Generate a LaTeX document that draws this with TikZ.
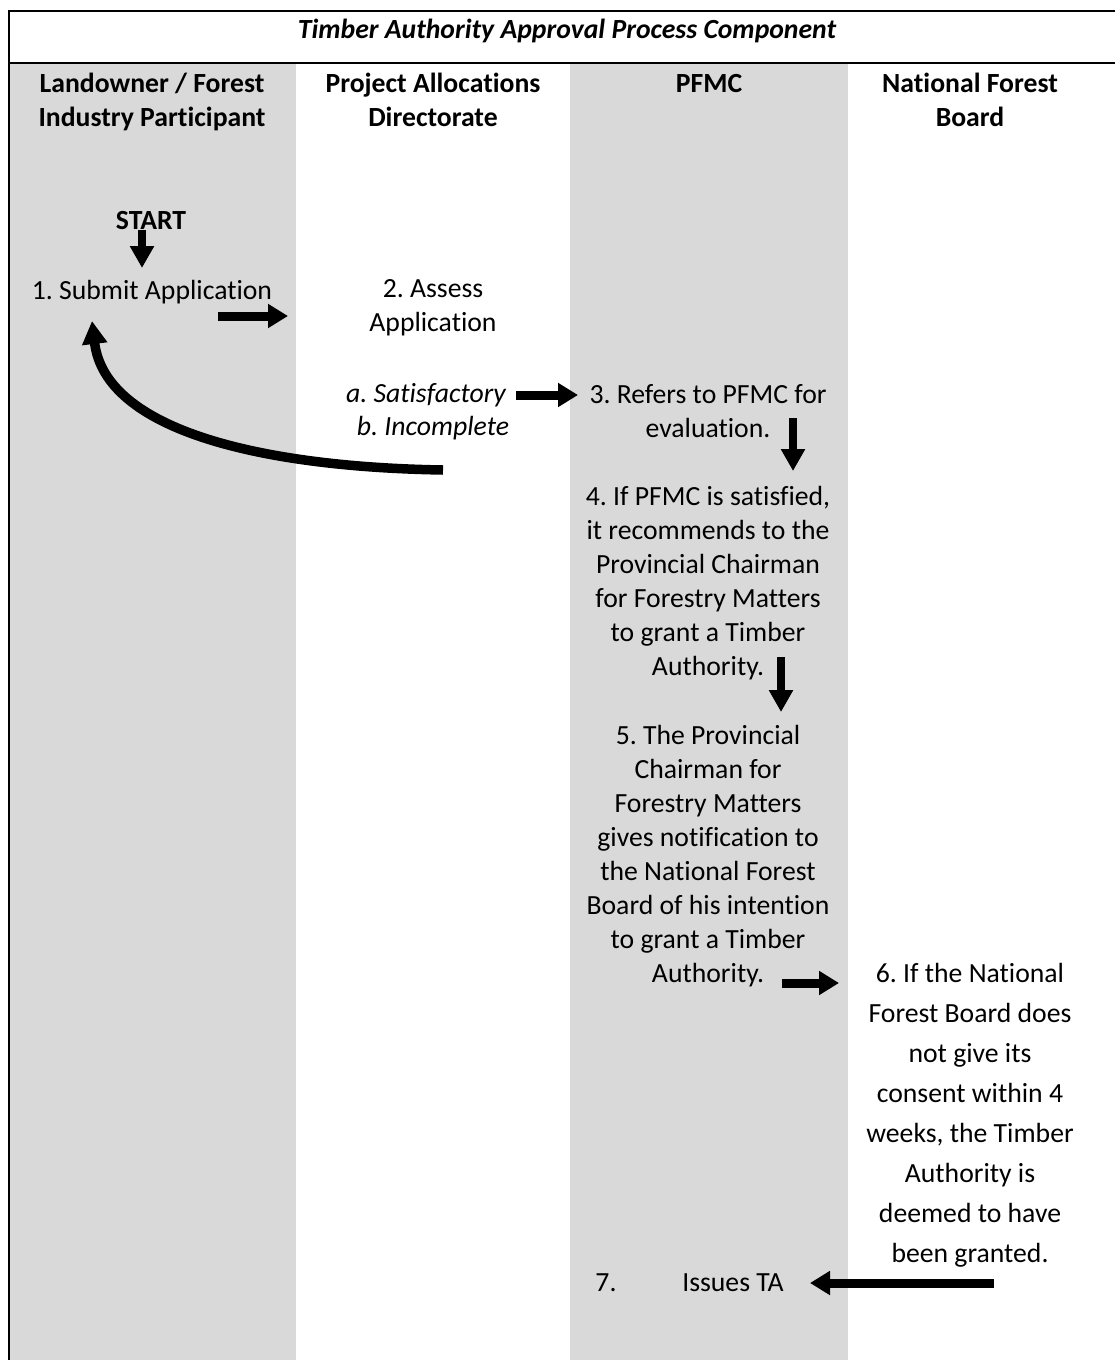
\documentclass[tikz,border=0pt]{standalone}
\usepackage{fontspec}
\setmainfont[Ligatures={NoCommon,NoRequired,NoContextual}]{Carlito}
\usetikzlibrary{arrows.meta}
\definecolor{lanegray}{RGB}{217,217,217}
\frenchspacing
\tikzset{
  txt/.style={inner sep=0pt, align=center, font=\fontsize{27.7}{34}\selectfont},
  txtb/.style={txt, font=\fontsize{27.7}{34}\selectfont\bfseries},
  txtw/.style={txt, font=\fontsize{27.7}{40}\selectfont},
  txti/.style={txt, font=\fontsize{27.7}{34}\selectfont\itshape},
  blockarrow/.style={line width=9pt, -{Triangle[length=20pt,width=23pt]}},
  vblockarrow/.style={line width=8pt, -{Triangle[length=22pt,width=23pt]}},
  bigarrow/.style={line width=9.5pt, -{Triangle[length=23pt,width=24pt]}},
  border/.style={line width=2pt}
}
\begin{document}
\begin{tikzpicture}[x=1pt,y=-1pt]
\useasboundingbox (0,0) rectangle (1115,1360);
\fill[white] (0,0) rectangle (1115,1360);
% lanes
\fill[lanegray] (10,63) rectangle (296,1360);
\fill[lanegray] (570,63) rectangle (848,1360);
% borders
\draw[border] (9,1360) -- (9,11) -- (1115,11);
\draw[border] (9,63) -- (1115,63);
% title and headers
\node[txtb, font=\fontsize{27.7}{34}\selectfont\bfseries\itshape] (title) at (567,31) {Timber Authority Approval Process Component};
\node[txtb] (h1) at (152,102) {Landowner / Forest\\Industry Participant};
\node[txtb] (h2) at (433,100) {Project Allocations\\Directorate};
\node[txtb] (h3) at (709,84) {PFMC};
\node[txtb] (h4) at (970,100) {National Forest\\Board};
% steps
\node[txtb] (start) at (151,221) {START};
\node[txt] (s1) at (152,292) {1. Submit Application};
\node[txt] (s2) at (433,308) {2. Assess\\Application};
\node[txti] (sa) at (426,395) {a. Satisfactory};
\node[txti] (sb) at (433,428) {b. Incomplete};
\node[txt] (s3) at (708,411) {3. Refers to PFMC for\\evaluation.};
\node[txt] (s4) at (708,583) {4. If PFMC is satisfied,\\it recommends to the\\Provincial Chairman\\for Forestry Matters\\to grant a Timber\\Authority.};
\node[txt] (s5) at (708,856) {5. The Provincial\\Chairman for\\Forestry Matters\\gives notification to\\the National Forest\\Board of his intention\\to grant a Timber\\Authority.};
\node[txtw] (s6) at (970,1115) {6. If the National\\Forest Board does\\not give its\\consent within 4\\weeks, the Timber\\Authority is\\deemed to have\\been granted.};
\node[txt] (s7n) at (606,1283) {7.};
\node[txt] (s7) at (733,1283) {Issues TA};
% arrow end points
\coordinate (a0s) at (142,230);
\coordinate (a0e) at (142,268);
\coordinate (a1s) at (218,316);
\coordinate (a1e) at (288,316);
\coordinate (a2s) at (516,395);
\coordinate (a2e) at (578,395);
\coordinate (a3s) at (793,418);
\coordinate (a3e) at (793,471);
\coordinate (a4s) at (781,657);
\coordinate (a4e) at (781,712);
\coordinate (a5s) at (782,983);
\coordinate (a5e) at (839,983);
\coordinate (a6s) at (994,1283);
\coordinate (a6e) at (810,1283);
\coordinate (ret) at (443,470);
% connectors
\draw[vblockarrow] (a0s) -- (a0e);
\draw[blockarrow] (a1s) -- (a1e);
\draw[blockarrow] (a2s) -- (a2e);
\draw[vblockarrow] (a3s) -- (a3e);
\draw[vblockarrow] (a4s) -- (a4e);
\draw[blockarrow] (a5s) -- (a5e);
\draw[blockarrow] (a6s) -- (a6e);
\coordinate (rettip) at (92,321);
\draw[bigarrow] (ret) .. controls (260,467) and (105,430) .. (rettip);
\end{tikzpicture}
\end{document}
